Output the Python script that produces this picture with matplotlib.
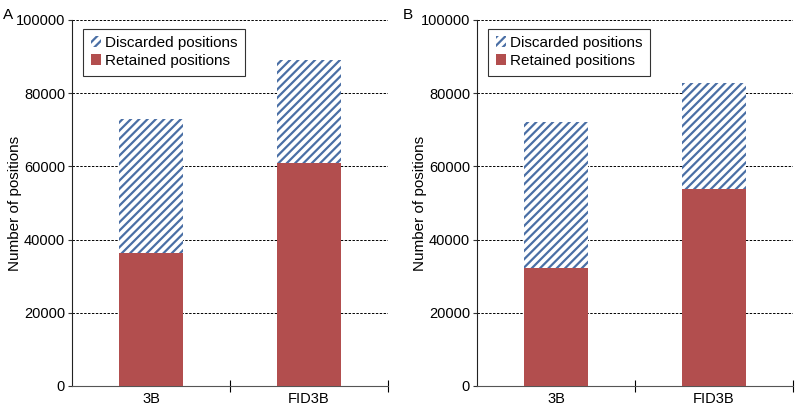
import numpy as np
import matplotlib.pyplot as plt

plt.rcParams['font.family'] = ['Liberation Sans', 'DejaVu Sans']
plt.rcParams['hatch.color'] = '#4a6fa5'
plt.rcParams['hatch.linewidth'] = 1.6

categories = ['3B', 'FID3B']
retained_a = [36300, 60900]
total_a = [73000, 89200]
retained_b = [32200, 53800]
total_b = [72200, 82700]
panel_labels = ['A', 'B']

red = '#b24e4e'

fig = plt.figure(figsize=(7.95, 4.07), dpi=100)
ax_a = fig.add_axes([0.0906, 0.0516, 0.3974, 0.8993])
ax_b = fig.add_axes([0.600, 0.0516, 0.3975, 0.8993])

for ax, ret, tot, lab, lx in [(ax_a, retained_a, total_a, panel_labels[0], 3),
                              (ax_b, retained_b, total_b, panel_labels[1], 403)]:
    x = np.arange(len(categories))
    disc = np.array(tot) - np.array(ret)
    ax.bar(x, ret, width=0.4, color=red, label='Retained positions', zorder=3)
    ax.bar(x, disc, width=0.4, bottom=ret, color='white', edgecolor='#4a6fa5',
           hatch='////', linewidth=0, label='Discarded positions', zorder=3)
    ax.set_xlim(-0.5, 1.5)
    ax.set_ylim(0, 100000)
    ax.set_yticks(np.arange(0, 100001, 20000))
    ax.set_xticks(x)
    ax.set_xticklabels(categories, fontsize=10.5)
    ax.set_xticks([0.5, 1.5], minor=True)
    ax.tick_params(axis='x', which='major', length=0, pad=4)
    ax.tick_params(axis='x', which='minor', direction='inout', length=8, width=0.8)
    ax.tick_params(axis='y', labelsize=10.5, length=3, width=0.8, color='#333333', pad=2)
    for y in range(20000, 100001, 20000):
        ax.axhline(y, color='black', linestyle=(0, (2.5, 1.5)), linewidth=0.7, zorder=1)
    for s in ['top', 'right']:
        ax.spines[s].set_visible(False)
    ax.spines['left'].set_color('#222222')
    ax.spines['bottom'].set_color('#555555')
    ax.set_ylabel('Number of positions', fontsize=11)
    # label right edge at about 22 px from the figure edge
    ax.yaxis.set_label_coords(-50 / 316, 0.5)
    h, l = ax.get_legend_handles_labels()
    leg = ax.legend(h[::-1], l[::-1], loc='upper left', bbox_to_anchor=(0.025, 0.985),
                    fontsize=11, frameon=True, fancybox=False, edgecolor='black',
                    handlelength=0.7, handleheight=0.7, handletextpad=0.25,
                    borderpad=0.5, labelspacing=0.25, borderaxespad=0.2)
    leg.get_frame().set_linewidth(0.8)
    fig.text(lx / 795, 1 - 15 / 407, lab, fontsize=11, va='center', ha='left')

fig.savefig('out.png', dpi=100)
